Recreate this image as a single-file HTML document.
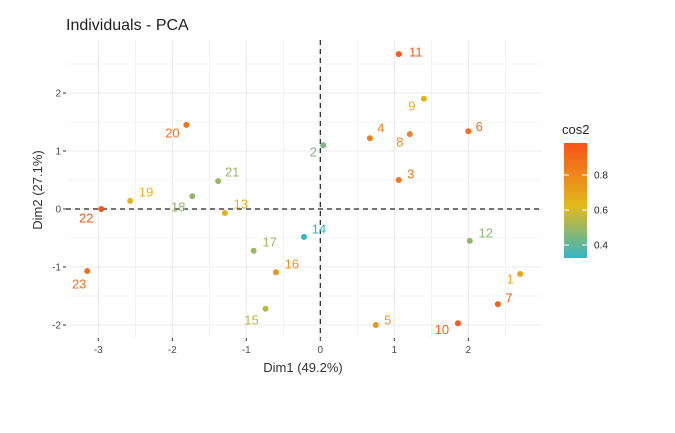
<!DOCTYPE html>
<html><head><meta charset="utf-8"><style>
html,body{margin:0;padding:0;background:#fff;}
svg{display:block;font-family:"Liberation Sans",Arial,sans-serif;}
</style></head><body>
<svg id="chart" width="675" height="433">
<defs><linearGradient id="grad" x1="0" y1="1" x2="0" y2="0">
<stop offset="0" stop-color="#36B4C4"/><stop offset="0.45" stop-color="#E2BA1C"/><stop offset="1" stop-color="#F7531A"/>
</linearGradient></defs>
<text x="66" y="30" font-size="16" fill="#222">Individuals - PCA</text>
<g id="grid"></g><g id="axes"></g><g id="points"></g>
<text x="303" y="372" font-size="13" fill="#333" text-anchor="middle">Dim1 (49.2%)</text>
<text transform="translate(42,190) rotate(-90)" font-size="13" fill="#333" text-anchor="middle">Dim2 (27.1%)</text>
<g>
<text x="562" y="134" font-size="13" fill="#222">cos2</text>
<rect x="564" y="143" width="23" height="115" fill="url(#grad)"/>
<g id="legticks"></g>
</g>
</svg>
<script>
const labels=["1","2","3","4","5","6","7","8","9","10","11","12","13","14","15","16","17","18","19","20","21","22","23"];
const dim1=[2.70,0.04,1.06,0.67,0.75,2.00,2.40,1.21,1.40,1.86,1.06,2.02,-1.29,-0.22,-0.74,-0.60,-0.90,-1.73,-2.57,-1.81,-1.38,-2.96,-3.15];
const dim2=[-1.12,1.10,0.50,1.22,-2.00,1.34,-1.64,1.29,1.90,-1.97,2.67,-0.55,-0.07,-0.48,-1.72,-1.09,-0.72,0.22,0.14,1.45,0.48,0.00,-1.07];
const cos2=[0.70,0.45,0.85,0.83,0.75,0.87,0.93,0.80,0.65,0.95,0.95,0.47,0.65,0.33,0.55,0.75,0.50,0.48,0.63,0.88,0.50,0.97,0.88];
const labelDx=[-10,-10,12,11,12,11,11,-10,-12,-16,17,16,16,15,-14,16,16,-14,16,-14,14,-15,-8];
const labelDy=[5,7,-6,-10,-5,-5,-6,8,7,6,-2,-8,-9,-8,11,-8,-9,11,-9,8,-9,9,13];
const xTicks=[-3,-2,-1,0,1,2];
const yTicks=[-2,-1,0,1,2];
const legTicks=[0.4,0.6,0.8];
const NS="http://www.w3.org/2000/svg";
const X=v=>320.3+v*74, Y=v=>209-v*58;
const L=v=>175-(v-0.8)*175;
const PL=66,PR=542,PT=40,PB=338;
function mk(tag,attrs,parent){const e=document.createElementNS(NS,tag);for(const k in attrs)e.setAttribute(k,attrs[k]);parent.appendChild(e);return e;}
function hex(c){return [parseInt(c.slice(1,3),16),parseInt(c.slice(3,5),16),parseInt(c.slice(5,7),16)];}
function col(v){const t=Math.max(0,Math.min(1,(v-0.326)/(0.98-0.326)));const s=[[0,hex("#36B4C4")],[0.45,hex("#E2BA1C")],[1,hex("#F7531A")]];let a=s[0],b=s[1];if(t>0.45){a=s[1];b=s[2];}const u=(t-a[0])/(b[0]-a[0]);const c=a[1].map((x,i)=>Math.round(x+(b[1][i]-x)*u));return `rgb(${c[0]},${c[1]},${c[2]})`;}
const grid=document.getElementById('grid'),axes=document.getElementById('axes'),pts=document.getElementById('points');
for(let v=-3.5;v<=3;v+=0.5){const x=X(v);if(x<PL||x>PR)continue;const major=Number.isInteger(v);
const g=mk('line',{x1:x,x2:x,y1:PT,y2:PB,stroke:'#ebebeb','stroke-width':major?1.1:0.6},grid);
}
for(let v=-2.5;v<=3;v+=0.5){const y=Y(v);if(y<PT||y>PB)continue;const major=Number.isInteger(v);
const g=mk('line',{x1:PL,x2:PR,y1:y,y2:y,stroke:'#ebebeb','stroke-width':major?1.1:0.6},grid);
}
xTicks.forEach(v=>{const x=X(v);mk('line',{x1:x,x2:x,y1:PB,y2:PB+3,stroke:'#333'},axes);
const t=mk('text',{x:x,y:PB+15,'font-size':10,fill:'#4d4d4d','text-anchor':'middle'},axes);t.textContent=v;
});
yTicks.forEach(v=>{const y=Y(v);mk('line',{x1:PL-3,x2:PL,y1:y,y2:y,stroke:'#333'},axes);
const t=mk('text',{x:PL-5,y:y+3.5,'font-size':10,fill:'#4d4d4d','text-anchor':'end'},axes);t.textContent=v;
});
const hz=mk('line',{x1:PL,x2:PR,y1:Y(0),y2:Y(0),stroke:'#222','stroke-width':1.2,'stroke-dasharray':'5,4'},axes);

const vz=mk('line',{x1:X(0),x2:X(0),y1:PT,y2:PB,stroke:'#222','stroke-width':1.2,'stroke-dasharray':'5,4'},axes);

labels.forEach((lb,i)=>{const x=X(dim1[i]),y=Y(dim2[i]),c=col(cos2[i]);
const p=mk('circle',{cx:x,cy:y,r:3,fill:c},pts);

const t=mk('text',{x:x+labelDx[i],y:y+labelDy[i]+4.5,'font-size':13,fill:c,'text-anchor':'middle'},pts);t.textContent=lb;
});
const lt=document.getElementById('legticks');
legTicks.forEach(v=>{const y=L(v);mk('line',{x1:564,x2:569,y1:y,y2:y,stroke:'#fff'},lt);mk('line',{x1:582,x2:587,y1:y,y2:y,stroke:'#fff'},lt);
const t=mk('text',{x:594,y:y+3.5,'font-size':10,fill:'#222'},lt);t.textContent=v.toFixed(1);
});
</script>
</body></html>
